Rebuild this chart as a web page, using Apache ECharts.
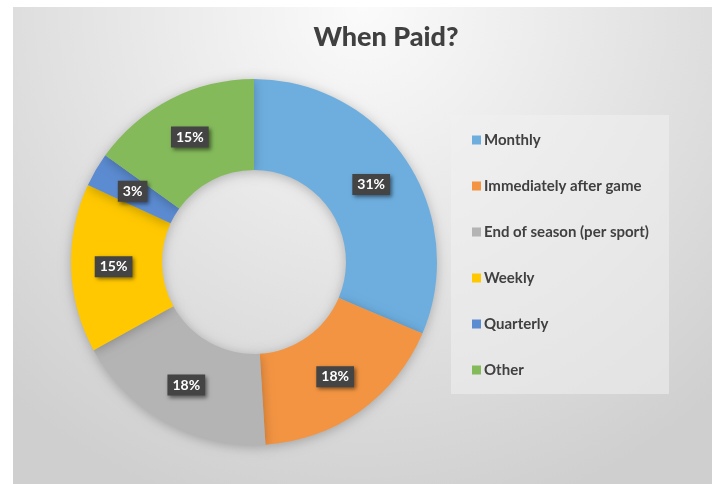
<!DOCTYPE html>
<html>
<head>
<meta charset="utf-8">
<script src="https://cdn.jsdelivr.net/npm/echarts@6/dist/echarts.min.js"></script>
<style>
  html, body { margin: 0; padding: 0; background: #fff; }
  #main { width: 712px; height: 484px; }
</style>
</head>
<body>
<div id="main"></div>
<script>
// data (percent of answers)
var categories = ['Monthly', 'Immediately after game', 'End of season (per sport)', 'Weekly', 'Quarterly', 'Other'];
var shares = [31.4, 17.6, 18.0, 14.9, 3.0, 15.1];
var colors = ['#6DAEDF', '#F39442', '#B4B4B4', '#FFC800', '#5B8BD1', '#84BA5A'];

var chart = echarts.init(document.getElementById('main'));

var pieData = categories.map(function (name, i) {
  return { name: name, value: shares[i] };
});

var option = {
  color: colors,
  animation: false,
  graphic: [
    {
      // chart area with soft radial shading
      type: 'rect',
      z: -10,
      shape: { x: 13, y: 7, width: 699, height: 477 },
      style: {
        fill: new echarts.graphic.RadialGradient(0.5, 0.0, 1.1, [
          { offset: 0, color: '#fbfbfb' },
          { offset: 1, color: '#cfcfcf' }
        ])
      }
    },
    {
      // legend box
      type: 'rect',
      z: -5,
      shape: { x: 451, y: 115, width: 218, height: 279 },
      style: { fill: 'rgba(240,240,240,0.55)' }
    }
  ],
  title: {
    text: 'When Paid?',
    left: 381,
    top: 19,
    textAlign: 'center',
    textStyle: {
      fontFamily: 'Lato',
      fontSize: 27,
      fontWeight: 900,
      color: '#404040'
    }
  },
  legend: {
    orient: 'vertical',
    left: 467,
    top: 126,
    icon: 'rect',
    itemWidth: 9,
    itemHeight: 9,
    itemGap: 28,
    data: categories,
    textStyle: {
      fontFamily: 'Lato',
      fontSize: 15,
      fontWeight: 'bold',
      color: '#404040',
      lineHeight: 18,
      padding: [0, 0, 0, -2]
    }
  },
  series: [{
    type: 'pie',
    center: [254, 262],
    radius: [92, 183],
    startAngle: 90,
    clockwise: true,
    avoidLabelOverlap: false,
    itemStyle: {
      shadowBlur: 12,
      shadowColor: 'rgba(0,0,0,0.25)',
      shadowOffsetY: 2
    },
    label: {
      show: true,
      position: 'inside',
      formatter: function (p) { return Math.round(p.value) + '%'; },
      fontFamily: 'Lato',
      fontSize: 14,
      fontWeight: 'bold',
      color: '#ffffff',
      backgroundColor: '#444444',
      padding: [4, 5, 3, 5],
      shadowBlur: 4,
      shadowColor: 'rgba(0,0,0,0.5)',
      shadowOffsetX: 2,
      shadowOffsetY: 2
    },
    labelLine: { show: false },
    emphasis: { disabled: true },
    data: pieData
  }]
};

chart.setOption(option);
</script>
</body>
</html>
